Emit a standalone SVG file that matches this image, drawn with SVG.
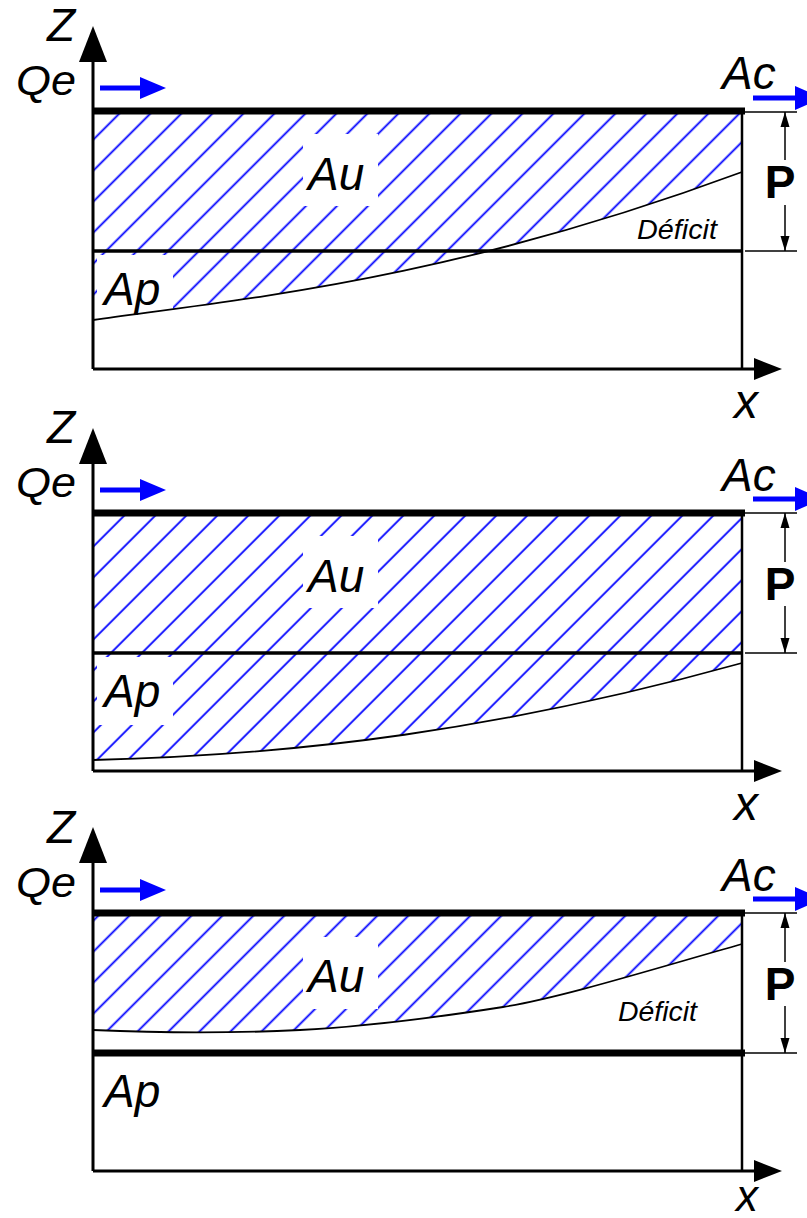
<svg xmlns="http://www.w3.org/2000/svg" width="807" height="1218" viewBox="0 0 807 1218">
<style>
.t{font-family:"Liberation Sans",Arial,sans-serif;font-style:italic;fill:#000}
.b{font-size:46px}
.q{font-size:42px}
.d{font-size:27px}
.z{font-size:46px}
.xl{font-size:48px}
.p{font-family:"Liberation Sans",Arial,sans-serif;font-weight:bold;font-size:46px;fill:#000}
.ax{stroke:#000;stroke-width:3;fill:none}
.thick{stroke:#000;stroke-width:7}
.mid{stroke:#000;stroke-width:3.5}
.edge{stroke:#000;stroke-width:2.5}
.curve{stroke:#000;stroke-width:1.8;fill:none}
.dim{stroke:#000;stroke-width:1.5}
.bl{stroke:#0000ff;stroke-width:5}
.blh{fill:#0000ff}
.ah{fill:#000}
.w{fill:#fff}
</style>
<defs>
<pattern id="h1" patternUnits="userSpaceOnUse" width="21.92" height="10" patternTransform="rotate(45)"><line x1="11.31" y1="-1" x2="11.31" y2="11" stroke="#0000ff" stroke-width="1.8"/></pattern>
<pattern id="h2" patternUnits="userSpaceOnUse" width="21.92" height="10" patternTransform="rotate(45)"><line x1="14.14" y1="-1" x2="14.14" y2="11" stroke="#0000ff" stroke-width="1.8"/></pattern>
<pattern id="h3" patternUnits="userSpaceOnUse" width="21.92" height="10" patternTransform="rotate(45)"><line x1="15.56" y1="-1" x2="15.56" y2="11" stroke="#0000ff" stroke-width="1.8"/></pattern>
</defs>

<!-- Panel 1 -->
<g id="panel1">
  <path d="M93,111 H742 V172 C450,280 250,298 93,320 Z" fill="url(#h1)"/>
  <rect class="w" x="303" y="134" width="75" height="72"/>
  <rect class="w" x="97" y="255" width="76" height="68"/>
  <g id="p1-box">
    <line class="ax" x1="93" y1="60" x2="93" y2="369"/>
    <line class="ax" x1="93" y1="369" x2="756" y2="369"/>
    <line class="edge" x1="742" y1="108" x2="742" y2="369"/>
    <line class="mid" x1="93" y1="251" x2="742" y2="251"/>
    <line class="thick" x1="93" y1="111" x2="745" y2="111"/>
    <path class="curve" d="M93,320 C250,298 450,280 742,172"/>
    <polygon class="ah" points="93,26 79,62 107,62"/>
    <polygon class="ah" points="782,369 754,358 754,380"/>
  </g>
  <g id="p1-flows">
    <line class="bl" x1="100" y1="88" x2="142" y2="88"/>
    <polygon class="blh" points="140,77 166,88 140,99"/>
    <line class="bl" x1="753" y1="98" x2="797" y2="98"/>
    <polygon class="blh" points="795,86 822,98 795,110"/>
  </g>
  <g id="p1-dim">
    <line class="dim" x1="745" y1="112" x2="797" y2="112"/>
    <line class="dim" x1="745" y1="251" x2="797" y2="251"/>
    <line class="dim" x1="785" y1="112" x2="785" y2="160"/>
    <line class="dim" x1="785" y1="205" x2="785" y2="251"/>
    <polygon class="ah" points="785,112 780.5,127 789.5,127"/>
    <polygon class="ah" points="785,251 780.5,236 789.5,236"/>
    <text class="p" x="780" y="198" text-anchor="middle">P</text>
  </g>
  <text class="t z" x="47" y="41">Z</text>
  <text class="t q" x="16" y="95" textLength="60" lengthAdjust="spacingAndGlyphs">Qe</text>
  <text class="t b" x="722" y="89">Ac</text>
  <text class="t b" x="308" y="190">Au</text>
  <text class="t b" x="104" y="305">Ap</text>
  <text class="t d" x="637" y="239" textLength="80" lengthAdjust="spacingAndGlyphs">Déficit</text>
  <text class="t xl" x="734" y="418">x</text>
</g>

<!-- Panel 2 -->
<g id="panel2">
  <path d="M93,513 H742 V663 C500,730 300,755 93,760 Z" fill="url(#h2)"/>
  <rect class="w" x="303" y="536" width="75" height="72"/>
  <rect class="w" x="97" y="657" width="76" height="68"/>
  <g id="p2-box">
    <line class="ax" x1="93" y1="462" x2="93" y2="771"/>
    <line class="ax" x1="93" y1="771" x2="756" y2="771"/>
    <line class="edge" x1="742" y1="510" x2="742" y2="771"/>
    <line class="mid" x1="93" y1="653" x2="742" y2="653"/>
    <line class="thick" x1="93" y1="513" x2="745" y2="513"/>
    <path class="curve" d="M93,760 C300,755 500,730 742,663"/>
    <polygon class="ah" points="93,428 79,464 107,464"/>
    <polygon class="ah" points="782,771 754,760 754,782"/>
  </g>
  <g id="p2-flows">
    <line class="bl" x1="100" y1="490" x2="142" y2="490"/>
    <polygon class="blh" points="140,479 166,490 140,501"/>
    <line class="bl" x1="753" y1="499" x2="797" y2="499"/>
    <polygon class="blh" points="795,487 822,499 795,511"/>
  </g>
  <g id="p2-dim">
    <line class="dim" x1="745" y1="513" x2="797" y2="513"/>
    <line class="dim" x1="745" y1="653" x2="797" y2="653"/>
    <line class="dim" x1="785" y1="513" x2="785" y2="562"/>
    <line class="dim" x1="785" y1="606" x2="785" y2="653"/>
    <polygon class="ah" points="785,513 780.5,528 789.5,528"/>
    <polygon class="ah" points="785,653 780.5,638 789.5,638"/>
    <text class="p" x="780" y="600" text-anchor="middle">P</text>
  </g>
  <text class="t z" x="47" y="443">Z</text>
  <text class="t q" x="16" y="497" textLength="60" lengthAdjust="spacingAndGlyphs">Qe</text>
  <text class="t b" x="722" y="491">Ac</text>
  <text class="t b" x="308" y="592">Au</text>
  <text class="t b" x="104" y="707">Ap</text>
  <text class="t xl" x="734" y="820">x</text>
</g>

<!-- Panel 3 -->
<g id="panel3">
  <path d="M93,913 H742 V944 C650,970 560,998 503,1007 C420,1020 360,1027 300,1030 C240,1033 160,1033 93,1030 Z" fill="url(#h3)"/>
  <rect class="w" x="303" y="937" width="75" height="72"/>
  <g id="p3-box">
    <line class="ax" x1="93" y1="862" x2="93" y2="1171"/>
    <line class="ax" x1="93" y1="1171" x2="756" y2="1171"/>
    <line class="edge" x1="742" y1="910" x2="742" y2="1171"/>
    <line class="thick" x1="93" y1="1053" x2="745" y2="1053"/>
    <line class="thick" x1="93" y1="913" x2="745" y2="913"/>
    <path class="curve" d="M93,1030 C160,1033 240,1033 300,1030 C360,1027 420,1020 503,1007 C560,998 650,970 742,944"/>
    <polygon class="ah" points="93,827 79,863 107,863"/>
    <polygon class="ah" points="782,1171 754,1160 754,1182"/>
  </g>
  <g id="p3-flows">
    <line class="bl" x1="100" y1="890" x2="142" y2="890"/>
    <polygon class="blh" points="140,879 166,890 140,901"/>
    <line class="bl" x1="753" y1="899" x2="797" y2="899"/>
    <polygon class="blh" points="795,887 822,899 795,911"/>
  </g>
  <g id="p3-dim">
    <line class="dim" x1="745" y1="913" x2="797" y2="913"/>
    <line class="dim" x1="745" y1="1053" x2="797" y2="1053"/>
    <line class="dim" x1="785" y1="913" x2="785" y2="962"/>
    <line class="dim" x1="785" y1="1006" x2="785" y2="1053"/>
    <polygon class="ah" points="785,913 780.5,928 789.5,928"/>
    <polygon class="ah" points="785,1053 780.5,1038 789.5,1038"/>
    <text class="p" x="780" y="1000" text-anchor="middle">P</text>
  </g>
  <text class="t z" x="47" y="843">Z</text>
  <text class="t q" x="16" y="897" textLength="60" lengthAdjust="spacingAndGlyphs">Qe</text>
  <text class="t b" x="722" y="891">Ac</text>
  <text class="t b" x="308" y="992">Au</text>
  <text class="t b" x="104" y="1107">Ap</text>
  <text class="t d" x="618" y="1021" textLength="79" lengthAdjust="spacingAndGlyphs">Déficit</text>
  <text class="t" style="font-size:44px" x="736" y="1211">x</text>
</g>
</svg>
